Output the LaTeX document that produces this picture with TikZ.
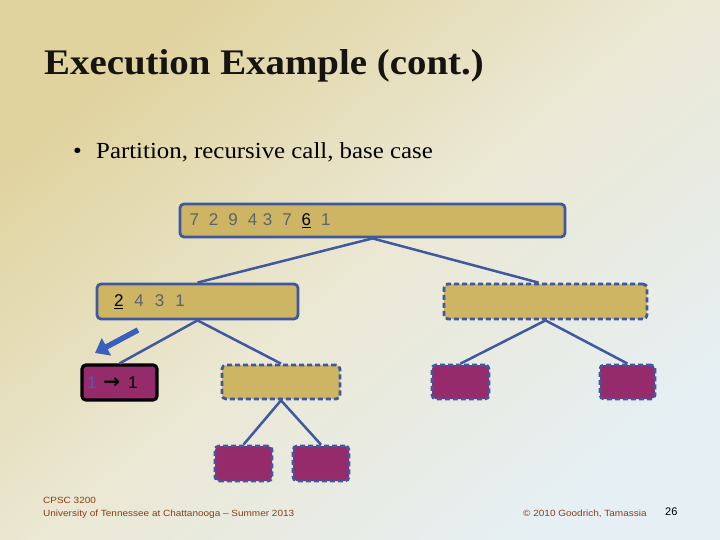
\documentclass[tikz,border=0pt]{standalone}
\usepackage{fontspec}
\setmainfont{Liberation Serif}
\newfontfamily\arialf[Ligatures=TeX]{Liberation Sans}
\newfontfamily\dejab{DejaVu Sans Bold}
\usetikzlibrary{arrows.meta}
\definecolor{bgA}{RGB}{224,211,158}
\definecolor{bgM}{RGB}{235,232,212}
\definecolor{bgB}{RGB}{230,239,243}
\definecolor{goldfill}{RGB}{205,181,99}
\definecolor{plumfill}{RGB}{150,43,107}
\definecolor{edgeblue}{RGB}{63,88,160}
\definecolor{arrowblue}{RGB}{58,96,190}
\definecolor{digitgrey}{RGB}{92,98,112}
\definecolor{oneblue}{RGB}{70,96,178}
\definecolor{footbrown}{RGB}{135,62,22}
\definecolor{titleblack}{RGB}{22,20,16}
\newcommand\gp{\hspace{10bp}}
\newcommand\gq{\hspace{11bp}}
\begin{document}
\begin{tikzpicture}[x=1bp,y=-1bp,
  treebox/.style={draw=edgeblue, line width=2.8bp, rounded corners=4bp, inner sep=0pt, anchor=center},
  goldbox/.style={treebox, fill=goldfill},
  plumbox/.style={treebox, fill=plumfill},
  dashbox/.style={dash pattern=on 5bp off 3bp},
  digits/.style={font=\arialf\fontsize{17bp}{20bp}\selectfont, text=digitgrey, align=left},
  conn/.style={draw=edgeblue, line width=2.5bp},
  bigarrow/.style={draw=arrowblue, line width=5.5bp, -{Triangle[length=13bp,width=19bp]}},
  foot/.style={anchor=base west, inner sep=0pt, font=\arialf\fontsize{9bp}{11bp}\selectfont, text=footbrown}
]
\useasboundingbox (0,0) rectangle (720,540);
\shade[top color=bgA, bottom color=bgB, middle color=bgM, shading angle=40] (0,0) rectangle (720,540);

% title and bullet
\node[anchor=base west, inner sep=0pt, text=titleblack, font=\fontsize{36bp}{40bp}\selectfont\bfseries] (title) at (44,74.5) {\scalebox{1.08}[1]{Execution Example (cont.)}};
\node[anchor=base west, inner sep=0pt, font=\fontsize{23bp}{26bp}\selectfont] (bul) at (73,158.5) {\scalebox{1.08}[1]{\textbullet}};
\node[anchor=base west, inner sep=0pt, font=\fontsize{23bp}{26bp}\selectfont] (btext) at (96,158.5) {\scalebox{1.08}[1]{Partition, recursive call, base case}};

% tree nodes
\node[goldbox, digits, minimum width=385bp, minimum height=33bp, text width=366bp, inner xsep=9.5bp] (root) at (372.5,220.5)
  {7\gp2\gp9\gp4\hspace{5.5bp}3\gp7\gp{\color{black}\underline{6}}\gp1};
\node[goldbox, digits, minimum width=201bp, minimum height=35bp, text width=167bp, inner xsep=17bp] (l1) at (197.5,301.5)
  {{\color{black}\underline{2}}\gq4\gq3\gq1};
\node[goldbox, dashbox, minimum width=203bp, minimum height=35bp] (r1) at (545.5,301.5) {};
\node[treebox, draw=black, line width=3.2bp, fill=plumfill, digits, minimum width=75bp, minimum height=35bp, text width=65bp, inner xsep=5bp] (ll2) at (119.5,382.5)
  {{\color{oneblue}1}\hspace{7bp}{\color{black}{\dejab\fontsize{20bp}{20bp}\selectfont →}\hspace{8bp}1}};
\node[goldbox, dashbox, minimum width=118bp, minimum height=34bp] (lr2) at (281,382) {};
\node[plumbox, dashbox, minimum width=57bp, minimum height=34bp] (rl2) at (460.5,382) {};
\node[plumbox, dashbox, minimum width=55bp, minimum height=34bp] (rr2) at (627.5,382) {};
\node[plumbox, dashbox, minimum width=57bp, minimum height=35bp] (lrl3) at (243.5,463.5) {};
\node[plumbox, dashbox, minimum width=56bp, minimum height=35bp] (lrr3) at (321,463.5) {};

% connectors
\draw[conn] (root.south) -- (l1.north);
\draw[conn] (root.south) -- ([xshift=-7bp]r1.north);
\draw[conn] (l1.south) -- (ll2.north);
\draw[conn] (l1.south) -- (lr2.north);
\draw[conn] (r1.south) -- (rl2.north);
\draw[conn] (r1.south) -- (rr2.north);
\draw[conn] (lr2.south) -- (lrl3.north);
\draw[conn] (lr2.south) -- (lrr3.north);

% big arrow
\coordinate (aS) at (138,330);
\coordinate (aE) at (95,353);
\draw[bigarrow] (aS) -- (aE);

% footer
\node[foot] (f1) at (43,503.5) {\scalebox{1.11}[1]{CPSC 3200}};
\node[foot] (f2) at (43,516) {\scalebox{1.11}[1]{University of Tennessee at Chattanooga – Summer 2013}};
\node[foot] (f3) at (523,516.5) {\scalebox{1.11}[1]{© 2010 Goodrich, Tamassia}};
\node[anchor=base west, inner sep=0pt, font=\arialf\fontsize{11bp}{13bp}\selectfont, text=black] (pg) at (665,515.5) {26};
\end{tikzpicture}
\end{document}
